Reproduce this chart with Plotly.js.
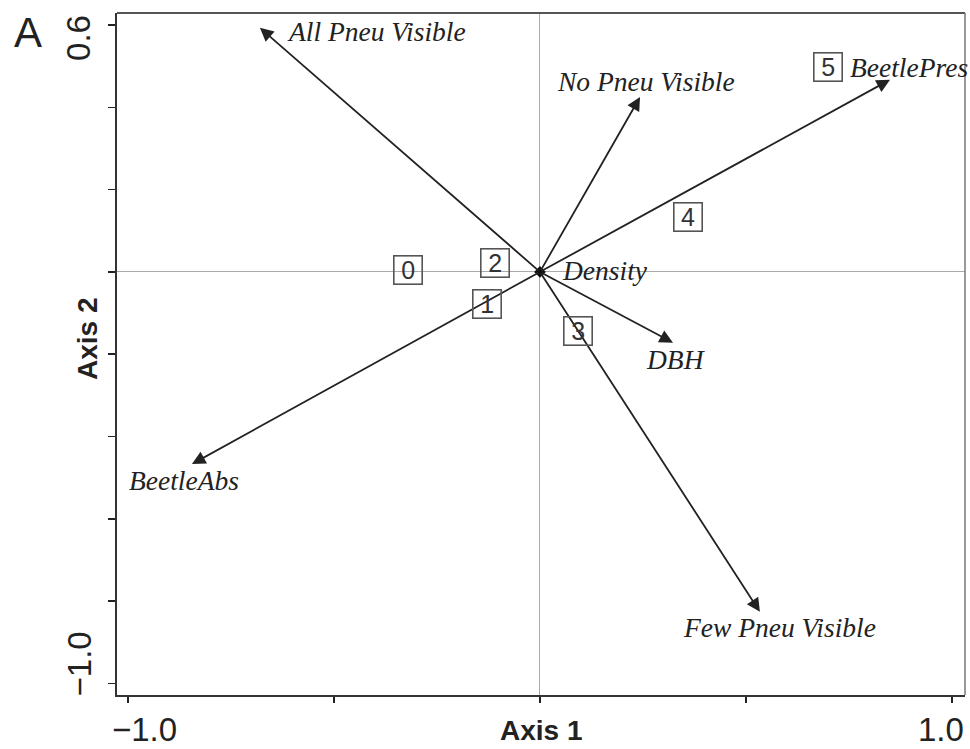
<!DOCTYPE html>
<html>
<head>
<meta charset="utf-8">
<script src="https://cdn.plot.ly/plotly-3.0.1.min.js"></script>
<style>html,body{margin:0;padding:0;background:#fff;}#chart{width:970px;height:749px;}</style>
</head>
<body>
<div id="chart"></div>
<script>
// ---- Data ----
const variables = ['All Pneu Visible', 'No Pneu Visible', 'BeetlePres', 'BeetleAbs', 'Density', 'DBH', 'Few Pneu Visible'];
const varAxis1  = [-0.680, 0.243, 0.850, -0.845, 0.0, 0.323, 0.534];
const varAxis2  = [ 0.593, 0.425, 0.467, -0.467, 0.0, -0.172, -0.826];

const sites     = ['0', '1', '2', '3', '4', '5'];
const siteAxis1 = [-0.320, -0.129, -0.109, 0.092, 0.359, 0.699];
const siteAxis2 = [ 0.005, -0.078,  0.022, -0.143, 0.134, 0.498];

const xTickVals = [-1.0, -0.5, 0.0, 0.5, 1.0];
const yTickVals = [-1.0, -0.8, -0.6, -0.4, -0.2, 0.0, 0.2, 0.4, 0.6];
const xTickLabels = {'-1': '\u22121.0', '1': '1.0'};
const yTickLabels = {'-1': '\u22121.0', '0.6': '0.6'};

// ---- Styling / label placement (pixels) ----
const labelOffset = {
  'All Pneu Visible': [25, -4],
  'No Pneu Visible': [-85, 15],
  'BeetlePres': [-42, 12],
  'BeetleAbs': [-65, -16],
  'Density': [20, 1],
  'DBH': [-29, -17],
  'Few Pneu Visible': [-79, -16]
};
const serif = {family: 'Liberation Serif, Times New Roman, serif', size: 27.5, color: '#222'};
const sans = 'Liberation Sans, Arial, Helvetica, sans-serif';

const annotations = [];

// arrows from origin
variables.forEach((v, i) => {
  if (varAxis1[i] !== 0 || varAxis2[i] !== 0) {
    annotations.push({
      x: varAxis1[i], y: varAxis2[i], xref: 'x', yref: 'y',
      ax: 0, ay: 0, axref: 'x', ayref: 'y',
      text: '', showarrow: true, arrowhead: 2, arrowsize: 1.5, arrowwidth: 1.8,
      arrowcolor: '#222', standoff: 0
    });
  }
  const off = labelOffset[v];
  annotations.push({
    x: varAxis1[i], y: varAxis2[i], xref: 'x', yref: 'y',
    text: '<i>' + v + '</i>', showarrow: false,
    xanchor: 'left', yanchor: 'middle', xshift: off[0], yshift: off[1],
    font: serif
  });
});

// site boxes
sites.forEach((s, i) => {
  annotations.push({
    x: siteAxis1[i], y: siteAxis2[i], xref: 'x', yref: 'y',
    text: s, showarrow: false, xanchor: 'center', yanchor: 'middle',
    font: {family: sans, size: 25, color: '#333'},
    width: 25, height: 25, borderpad: 1,
    bordercolor: '#555', borderwidth: 1.6, bgcolor: 'rgba(0,0,0,0)'
  });
});

// tick labels (placed inward like in the reference)
Object.keys(xTickLabels).forEach(k => {
  const v = parseFloat(k);
  annotations.push({
    x: v, y: 0, xref: 'x', yref: 'paper', text: xTickLabels[k], showarrow: false,
    xanchor: 'center', yanchor: 'middle', xshift: v < 0 ? 16 : -11, yshift: -34,
    font: {family: sans, size: 33, color: '#222'}
  });
});
Object.keys(yTickLabels).forEach(k => {
  const v = parseFloat(k);
  annotations.push({
    x: 0, y: v, xref: 'paper', yref: 'y', text: yTickLabels[k], showarrow: false,
    textangle: -90, xanchor: 'center', yanchor: 'middle', xshift: -38, yshift: v < 0 ? 19 : -13,
    font: {family: sans, size: 33, color: '#222'}
  });
});

// axis titles and panel letter
annotations.push({
  x: 0, y: 0, xref: 'x', yref: 'paper', text: '<b>Axis 1</b>', showarrow: false,
  xanchor: 'center', yanchor: 'middle', xshift: 2, yshift: -35,
  font: {family: sans, size: 28, color: '#222'}
});
annotations.push({
  x: 0, y: 0.5, xref: 'paper', yref: 'paper', text: '<b>Axis 2</b>', showarrow: false,
  textangle: -90, xanchor: 'center', yanchor: 'middle', xshift: -30, yshift: 15,
  font: {family: sans, size: 28, color: '#222'}
});
annotations.push({
  x: 0, y: 1, xref: 'paper', yref: 'paper', text: 'A', showarrow: false,
  xanchor: 'center', yanchor: 'middle', xshift: -89, yshift: -19,
  font: {family: sans, size: 42, color: '#222'}
});

const trace = {
  x: [varAxis1[variables.indexOf('Density')]],
  y: [varAxis2[variables.indexOf('Density')]],
  mode: 'markers', type: 'scatter',
  marker: {size: 9, color: '#111', symbol: 'diamond'},
  hoverinfo: 'skip', showlegend: false
};

const layout = {
  width: 970, height: 749,
  margin: {l: 117, r: 5, t: 13, b: 54},
  paper_bgcolor: '#fff', plot_bgcolor: '#fff',
  showlegend: false,
  xaxis: {
    range: [-1.027, 1.032], tickvals: xTickVals, showticklabels: false,
    ticks: 'outside', ticklen: 6, tickwidth: 1.5, tickcolor: '#222',
    showgrid: false, zeroline: true, zerolinecolor: '#aaa', zerolinewidth: 1,
    showline: true, linecolor: '#333', linewidth: 2
  },
  yaxis: {
    range: [-1.028, 0.629], tickvals: yTickVals, showticklabels: false,
    ticks: 'outside', ticklen: 7, tickwidth: 1.5, tickcolor: '#222',
    showgrid: false, zeroline: true, zerolinecolor: '#aaa', zerolinewidth: 1,
    showline: true, linecolor: '#333', linewidth: 2
  },
  shapes: [
    {type: 'line', xref: 'paper', yref: 'paper', x0: 0, x1: 1, y0: 1, y1: 1, line: {color: '#555', width: 2}},
    {type: 'line', xref: 'paper', yref: 'paper', x0: 1, x1: 1, y0: 0, y1: 1, line: {color: '#777', width: 1.5}}
  ],
  annotations: annotations
};

Plotly.newPlot('chart', [trace], layout, {staticPlot: true, displayModeBar: false});
</script>
</body>
</html>
